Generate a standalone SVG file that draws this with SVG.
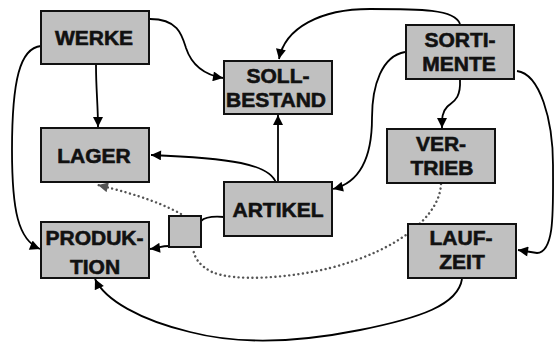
<svg xmlns="http://www.w3.org/2000/svg" width="555" height="347" viewBox="0 0 555 347">
<defs>
<style>
.box{fill:#c0c0c0;stroke:#111;stroke-width:2}
.t{font-family:"Liberation Sans",Arial,sans-serif;font-weight:bold;font-size:21px;fill:#111;stroke:#111;stroke-width:0.6;text-anchor:middle}
.c{fill:none;stroke:#000;stroke-width:1.8}
.d{fill:none;stroke:#555;stroke-width:2.4;stroke-dasharray:0.1 4.5;stroke-linecap:round}
</style>
<marker id="a" viewBox="0 0 10 10" refX="10" refY="5" markerWidth="11" markerHeight="10" markerUnits="userSpaceOnUse" orient="auto"><path d="M0,0L10,5L0,10z" fill="#000"/></marker>
<marker id="g" viewBox="0 0 10 10" refX="10" refY="5" markerWidth="11" markerHeight="10" markerUnits="userSpaceOnUse" orient="auto"><path d="M0,0L10,5L0,10z" fill="#555"/></marker>
</defs>
<g id="connectors">
<path class="c" d="M150,19 C178,19 182,35 186,48 C192,66 205,75 223,78" marker-end="url(#a)"/>
<path class="c" d="M96,65 C96,90 98,105 98,127" marker-end="url(#a)"/>
<path class="c" d="M41,46 C20,48 12,80 12,150 C12,210 18,240 40,249" marker-end="url(#a)"/>
<path class="c" d="M460,24 C455,9 420,9 370,9 C320,9 285,28 279,59" marker-end="url(#a)"/>
<path class="c" d="M405,52 C382,56 372,85 372,118 C372,155 362,182 333,189" marker-end="url(#a)"/>
<path class="c" d="M460,80 C461,100 452,102 447,107 C442,112 442,118 442,128" marker-end="url(#a)"/>
<path class="c" d="M517,71 C540,74 553,120 553,165 C553,210 555,252 537,253 L518,250" marker-end="url(#a)"/>
<path class="c" d="M278,182 L278,115" marker-end="url(#a)"/>
<path class="c" d="M276,183 C270,164 230,158 151,155" marker-end="url(#a)"/>
<path class="c" d="M224,217 C212,216 205,217 201,221"/>
<path class="c" d="M169,246 C162,246 158,248 150,249" marker-end="url(#a)"/>
<path class="c" d="M462,279 C458,305 420,318 360,330 C300,342 240,345 190,332 C140,320 105,300 95,279" marker-end="url(#a)"/>
<path class="d" d="M181,214 C165,205 140,195 98,185" marker-end="url(#g)"/>
<path class="d" d="M441,184 C440,215 400,250 330,268 C290,278 235,282 212,272 C200,266 194,258 193,248"/>
</g>
<g id="werke"><rect class="box" x="41" y="11" width="108" height="53"/><text class="t" x="94" y="45">WERKE</text></g>
<g id="sollbestand"><rect class="box" x="224" y="61" width="108" height="53"/><text class="t" x="278" y="83">SOLL-</text><text class="t" x="276" y="107">BESTAND</text></g>
<g id="lager"><rect class="box" x="41" y="128" width="108" height="54"/><text class="t" x="94" y="163">LAGER</text></g>
<g id="sortimente"><rect class="box" x="406" y="25" width="108" height="54"/><text class="t" x="460" y="47">SORTI-</text><text class="t" x="459" y="71">MENTE</text></g>
<g id="vertrieb"><rect class="box" x="387" y="129" width="108" height="54"/><text class="t" x="441" y="151">VER-</text><text class="t" x="442" y="175">TRIEB</text></g>
<g id="artikel"><rect class="box" x="224" y="182" width="108" height="54"/><text class="t" x="278" y="217">ARTIKEL</text></g>
<g id="produktion"><rect class="box" x="41" y="222" width="108" height="56"/><text class="t" x="94.5" y="245">PRODUK-</text><text class="t" x="95" y="274">TION</text></g>
<g id="laufzeit"><rect class="box" x="408" y="224" width="108" height="54"/><text class="t" x="461" y="245">LAUF-</text><text class="t" x="462" y="269">ZEIT</text></g>
<g id="small"><rect class="box" x="169" y="216" width="32" height="31"/></g>
</svg>
